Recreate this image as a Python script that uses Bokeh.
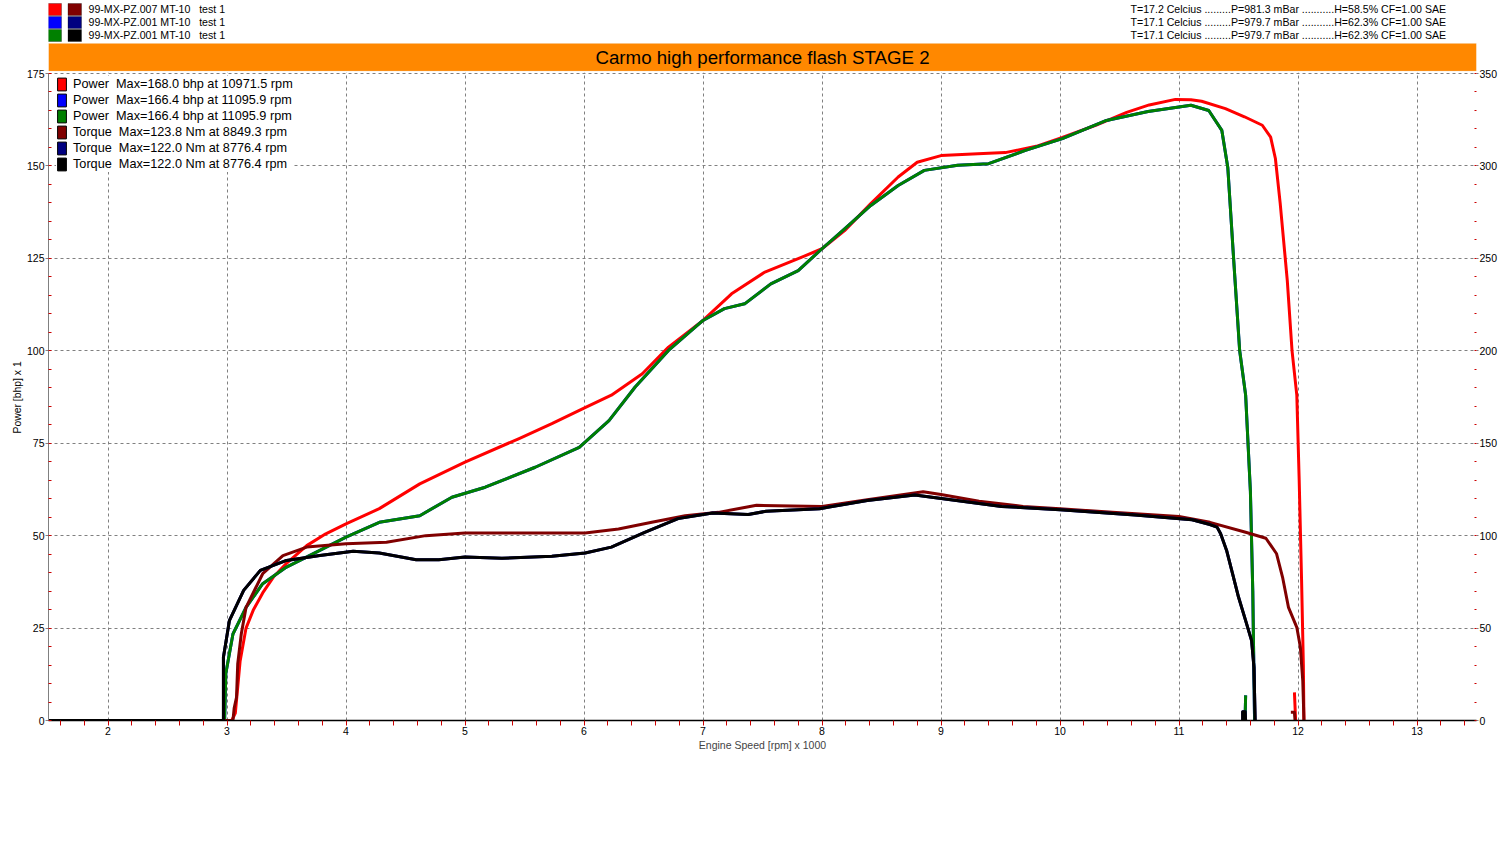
import numpy as np
from bokeh.plotting import figure
from bokeh.models import (Range1d, LinearAxis, FixedTicker, Legend, LegendItem,
                          Label, BoxAnnotation, Title)
from bokeh.embed import file_html
from bokeh.resources import INLINE

NaN = float("nan")
NB = "\u00a0"

# ---------------- data ----------------
TITLE = "Carmo high performance flash STAGE 2"
Y_TITLE = "Power [bhp] x 1"
X_TITLE = "Engine Speed [rpm] x 1000"
RUN_FILES = ["99-MX-PZ.007 MT-10" + NB + NB + " test 1",
             "99-MX-PZ.001 MT-10" + NB + NB + " test 1",
             "99-MX-PZ.001 MT-10" + NB + NB + " test 1"]
RUN_CONDITIONS = ["T=17.2 Celcius .........P=981.3 mBar ...........H=58.5% CF=1.00 SAE",
                  "T=17.1 Celcius .........P=979.7 mBar ...........H=62.3% CF=1.00 SAE",
                  "T=17.1 Celcius .........P=979.7 mBar ...........H=62.3% CF=1.00 SAE"]
POWER_LABELS = ["Power" + NB + " Max=168.0 bhp at 10971.5 rpm",
                "Power" + NB + " Max=166.4 bhp at 11095.9 rpm",
                "Power" + NB + " Max=166.4 bhp at 11095.9 rpm"]
TORQUE_LABELS = ["Torque" + NB + " Max=123.8 Nm at 8849.3 rpm",
                 "Torque" + NB + " Max=122.0 Nm at 8776.4 rpm",
                 "Torque" + NB + " Max=122.0 Nm at 8776.4 rpm"]
POWER_COLORS = ["#FF0000", "#0000FF", "#008000"]
TORQUE_COLORS = ["#800000", "#000080", "#000000"]

X_TICKS = [2, 3, 4, 5, 6, 7, 8, 9, 10, 11, 12, 13]
POWER_TICKS = [0, 25, 50, 75, 100, 125, 150, 175]
TORQUE_TICKS = [0, 50, 100, 150, 200, 250, 300, 350]

# Run 1: 99-MX-PZ.007 (rpm x 1000, bhp)
RUN1_POWER_RPM = [1.5, 3.04, 3.07, 3.11, 3.16, 3.22, 3.30, 3.39, 3.50, 3.67, 3.83, 4.00, 4.28, 4.62,
                  5.00, 5.45, 5.73, 6.00, 6.23, 6.49, 6.71, 7.00, 7.24, 7.52, 7.80, 8.00, 8.19, 8.41,
                  8.64, 8.80, 9.00, 9.31, 9.54, 9.80, 10.02, 10.30, 10.56, 10.75, 10.97, 11.10, 11.19,
                  11.39, 11.55, 11.70, 11.77, 11.81, 11.85, 11.91, 11.95, 11.99, 12.01, 12.03, 12.045,
                  12.05, NaN, 11.97, 11.98]
RUN1_POWER_BHP = [0, 0, 2.0, 16.0, 25.0, 29.8, 34.5, 38.8, 42.5, 47.3, 50.5, 53.2, 57.3, 64.0,
                  69.9, 76.2, 80.3, 84.5, 88.0, 93.8, 101.0, 108.2, 115.4, 121.3, 124.9, 127.6, 132.5, 139.8,
                  147.0, 151.0, 152.8, 153.3, 153.6, 155.3, 157.7, 161.0, 164.5, 166.5, 168.0, 167.9, 167.5,
                  165.5, 163.3, 161.0, 157.8, 152.0, 140.0, 119.0, 100.0, 88.0, 65.0, 38.0, 15.0,
                  0, NaN, 7.6, 0]
# Run 1 torque (Nm)
RUN1_TORQUE_RPM = [1.5, 3.05, 3.06, 3.08, 3.09, 3.12, 3.16, 3.30, 3.47, 3.67, 4.00, 4.34, 4.67, 5.00,
                   5.45, 6.01, 6.29, 6.57, 6.85, 7.13, 7.45, 8.00, 8.38, 8.85, 9.00, 9.32, 9.69, 10.00,
                   10.44, 11.00, 11.26, 11.56, 11.73, 11.82, 11.87, 11.92, 11.99, 12.02, 12.04, 12.05,
                   NaN, 11.94, 11.97, 11.975]
RUN1_TORQUE_NM = [0, 0, 6.6, 12.6, 30.6, 46.8, 61.2, 79.4, 89.2, 93.8, 95.6, 96.4, 100.0, 101.4,
                  101.4, 101.4, 103.6, 107.2, 110.8, 112.6, 116.4, 115.8, 119.4, 123.8, 122.2, 118.6, 115.8, 114.6,
                  112.6, 110.4, 107.2, 101.8, 98.6, 90.2, 77.6, 61.2, 50.4, 39.6, 21.6, 0,
                  NaN, 4.4, 4.4, 0]

# Run 2: 99-MX-PZ.001
RUN2_POWER_RPM = [1.5, 2.98, 2.99, 3.05, 3.16, 3.30, 3.50, 3.78, 4.00, 4.28, 4.62, 4.89, 5.17, 5.59,
                  5.96, 6.21, 6.43, 6.71, 7.00, 7.18, 7.35, 7.57, 7.80, 8.00, 8.19, 8.41, 8.64, 8.86,
                  9.14, 9.40, 9.71, 10.02, 10.39, 10.74, 11.10, 11.25, 11.36, 11.41, 11.46, 11.51, 11.56,
                  11.60, 11.62, 11.635, NaN, 11.555, 11.56]
RUN2_POWER_BHP = [0, 0, 12.7, 23.4, 30.6, 37.0, 41.5, 46.0, 49.6, 53.6, 55.4, 60.4, 63.1, 68.5,
                  73.9, 81.1, 90.2, 100.1, 108.2, 111.4, 112.7, 118.1, 121.7, 127.6, 133.0, 139.3, 144.7, 148.8,
                  150.2, 150.6, 154.2, 157.4, 162.3, 164.7, 166.4, 165.0, 159.6, 149.6, 124.4, 100.0, 88.0,
                  62.0, 35.0, 0, NaN, 0, 6.8]
RUN2_TORQUE_RPM = [1.5, 2.97, 2.97, 3.02, 3.14, 3.28, 3.50, 3.78, 4.06, 4.28, 4.59, 4.78, 5.00, 5.31,
                   5.73, 6.01, 6.23, 6.51, 6.79, 7.08, 7.38, 7.53, 7.98, 8.38, 8.78, 9.13, 9.51, 10.00,
                   10.63, 11.11, 11.26, 11.32, 11.35, 11.40, 11.45, 11.50, 11.56, 11.61, 11.63, 11.64,
                   NaN, 11.535, 11.535, 11.555, 11.56]
RUN2_TORQUE_NM = [0, 0, 34.2, 54.0, 70.4, 81.2, 86.6, 89.2, 91.6, 90.6, 87.0, 87.0, 88.4, 87.8,
                  88.8, 90.6, 93.8, 101.8, 109.2, 112.2, 111.4, 113.2, 114.6, 119.0, 122.0, 119.0, 115.8, 114.0,
                  111.2, 108.6, 106.0, 104.6, 101.0, 92.0, 79.4, 66.8, 54.0, 43.2, 28.8, 0,
                  NaN, 0, 4.8, 4.8, 0]

# Run 3 is the same file as run 2 (99-MX-PZ.001)
RUN3_POWER_RPM, RUN3_POWER_BHP = RUN2_POWER_RPM, RUN2_POWER_BHP
RUN3_TORQUE_RPM, RUN3_TORQUE_NM = RUN2_TORQUE_RPM, RUN2_TORQUE_NM

X_START, X_END = 1.5, 13.5
POWER_MAX, TORQUE_MAX = 175, 350

# ---------------- layout ----------------
FONT = "Liberation Sans"
W, H = 1500, 800
B_LEFT, B_RIGHT, B_TOP, B_BOTTOM = 48, 19, 0, 80
FRAME_H = H - B_TOP - B_BOTTOM      # frame spans page y 0..720
PLOT_PX = 647                        # pixel height of the 0..175 region
FRAME_BOTTOM_PAGE = 720

def sy(page_y):
    return FRAME_BOTTOM_PAGE - page_y

def sx(page_x):
    return page_x - B_LEFT

p = figure(width=W, height=H, output_backend="svg", toolbar_location=None,
           x_range=Range1d(X_START, X_END),
           y_range=Range1d(0, POWER_MAX * FRAME_H / PLOT_PX),
           min_border_left=B_LEFT, min_border_right=B_RIGHT,
           min_border_top=B_TOP, min_border_bottom=B_BOTTOM,
           title_location=None)
p.outline_line_color = None
p.background_fill_color = "white"
p.border_fill_color = "white"
p.extra_y_ranges = {"torque": Range1d(0, TORQUE_MAX * FRAME_H / PLOT_PX)}

GRID = "#808080"
MINOR = "#CC0000"

xa = p.xaxis[0]
xa.ticker = FixedTicker(ticks=X_TICKS,
                        minor_ticks=[round(v, 1) for v in np.arange(1.6, 13.5, 0.2)])
xa.axis_line_color = "black"
xa.axis_line_width = 1.5
xa.major_tick_line_color = GRID
xa.major_tick_out = 0
xa.major_tick_in = 0
xa.minor_tick_line_color = MINOR
xa.minor_tick_out = 5
xa.minor_tick_in = 0
xa.major_label_standoff = 1
xa.major_label_text_font = FONT
xa.major_label_text_font_size = "10.5px"
xa.major_label_text_color = "black"
xa.axis_label = X_TITLE
xa.axis_label_text_font = FONT
xa.axis_label_text_font_size = "10.5px"
xa.axis_label_text_font_style = "normal"
xa.axis_label_standoff = 1

ya = p.yaxis[0]
ya.bounds = (0, POWER_MAX)
ya.ticker = FixedTicker(ticks=POWER_TICKS, minor_ticks=list(range(0, POWER_MAX + 1, 5)))
ya.axis_line_color = GRID
ya.major_tick_line_color = GRID
ya.major_tick_out = 3
ya.major_tick_in = 0
ya.minor_tick_line_color = MINOR
ya.minor_tick_out = 0
ya.minor_tick_in = 3
ya.major_label_standoff = 1
ya.major_label_text_font = FONT
ya.major_label_text_font_size = "10.5px"
ya.major_label_text_color = "black"

# vertical axis title in the left panel; starts (bottom end) at page y 433
p.add_layout(Title(text=Y_TITLE, align="left", offset=sy(433), standoff=2,
                   text_font=FONT, text_font_size="10.4px", text_font_style="normal",
                   text_color="black"), "left")

ra = LinearAxis(y_range_name="torque", bounds=(0, TORQUE_MAX),
                ticker=FixedTicker(ticks=TORQUE_TICKS, minor_ticks=list(range(0, TORQUE_MAX + 1, 10))))
ra.axis_line_color = None
ra.major_tick_line_color = GRID
ra.major_tick_out = 2
ra.major_tick_in = 0
ra.minor_tick_line_color = MINOR
ra.minor_tick_out = 0
ra.minor_tick_in = 2
ra.major_label_standoff = 1
ra.major_label_text_font = FONT
ra.major_label_text_font_size = "10.5px"
ra.major_label_text_color = "black"
p.add_layout(ra, "right")

p.grid.grid_line_color = GRID
p.grid.grid_line_dash = "3 3"
p.grid.grid_line_width = 1

# ---------------- curves ----------------
power_runs = [(RUN1_POWER_RPM, RUN1_POWER_BHP), (RUN2_POWER_RPM, RUN2_POWER_BHP),
              (RUN3_POWER_RPM, RUN3_POWER_BHP)]
torque_runs = [(RUN1_TORQUE_RPM, RUN1_TORQUE_NM), (RUN2_TORQUE_RPM, RUN2_TORQUE_NM),
               (RUN3_TORQUE_RPM, RUN3_TORQUE_NM)]

for (xs, ys), c in zip(power_runs, POWER_COLORS):
    p.line(np.array(xs, dtype=float), np.array(ys, dtype=float), line_color=c, line_width=3,
           line_join="round")
for (xs, ys), c in zip(torque_runs, TORQUE_COLORS):
    p.line(np.array(xs, dtype=float), np.array(ys, dtype=float), line_color=c, line_width=3,
           line_join="round", y_range_name="torque")

# ---------------- legend (colour swatches) ----------------
items = []
for lab, c in zip(POWER_LABELS + TORQUE_LABELS, POWER_COLORS + TORQUE_COLORS):
    r = p.quad(left=[NaN], right=[NaN], top=[NaN], bottom=[NaN],
               fill_color=c, line_color="black", line_width=1)
    items.append(LegendItem(label=lab, renderers=[r]))
legend = Legend(items=items, location=(8, sy(172)), margin=0, padding=3, spacing=0,
                glyph_width=11, glyph_height=16, label_height=16, label_standoff=6,
                label_text_font=FONT, label_text_font_size="12.7px", label_text_color="black",
                background_fill_color="white", background_fill_alpha=1.0, border_line_color=None)
p.add_layout(legend)

# ---------------- header ----------------
p.add_layout(BoxAnnotation(left=X_START, right=X_END, bottom=POWER_MAX + 0.3, top=p.y_range.end,
                           fill_color="white", fill_alpha=1.0, line_color=None))
p.add_layout(BoxAnnotation(left=X_START, right=X_END, top=sy(43), bottom=sy(70.5),
                           top_units="screen", bottom_units="screen",
                           fill_color="#FF8800", fill_alpha=1.0, line_color="#EFC58A", line_width=1))
p.add_layout(Label(x=(X_START + X_END) / 2, y=sy(57), y_units="screen", text=TITLE,
                   text_align="center", text_baseline="middle", text_font=FONT,
                   text_font_size="18.7px", text_color="black"))

ROW_Y = [9, 22, 35]
for i in range(3):
    for left, c in ((47.5, POWER_COLORS[i]), (67.5, TORQUE_COLORS[i])):
        p.add_layout(BoxAnnotation(left=sx(left), right=sx(left + 13.5),
                                   top=sy(ROW_Y[i] - 6), bottom=sy(ROW_Y[i] + 6),
                                   left_units="screen", right_units="screen",
                                   top_units="screen", bottom_units="screen",
                                   fill_color=c, fill_alpha=1.0, line_color="black", line_width=1))
    p.add_layout(Label(x=sx(88), y=sy(ROW_Y[i] - 0.5), x_units="screen", y_units="screen",
                       text=RUN_FILES[i], text_baseline="middle", text_font=FONT,
                       text_font_size="10.6px", text_color="black"))
    p.add_layout(Label(x=sx(1130), y=sy(ROW_Y[i] - 0.5), x_units="screen", y_units="screen",
                       text=RUN_CONDITIONS[i], text_baseline="middle", text_font=FONT,
                       text_font_size="10.6px", text_color="black"))

open("out.html", "w").write(file_html(p, INLINE))
